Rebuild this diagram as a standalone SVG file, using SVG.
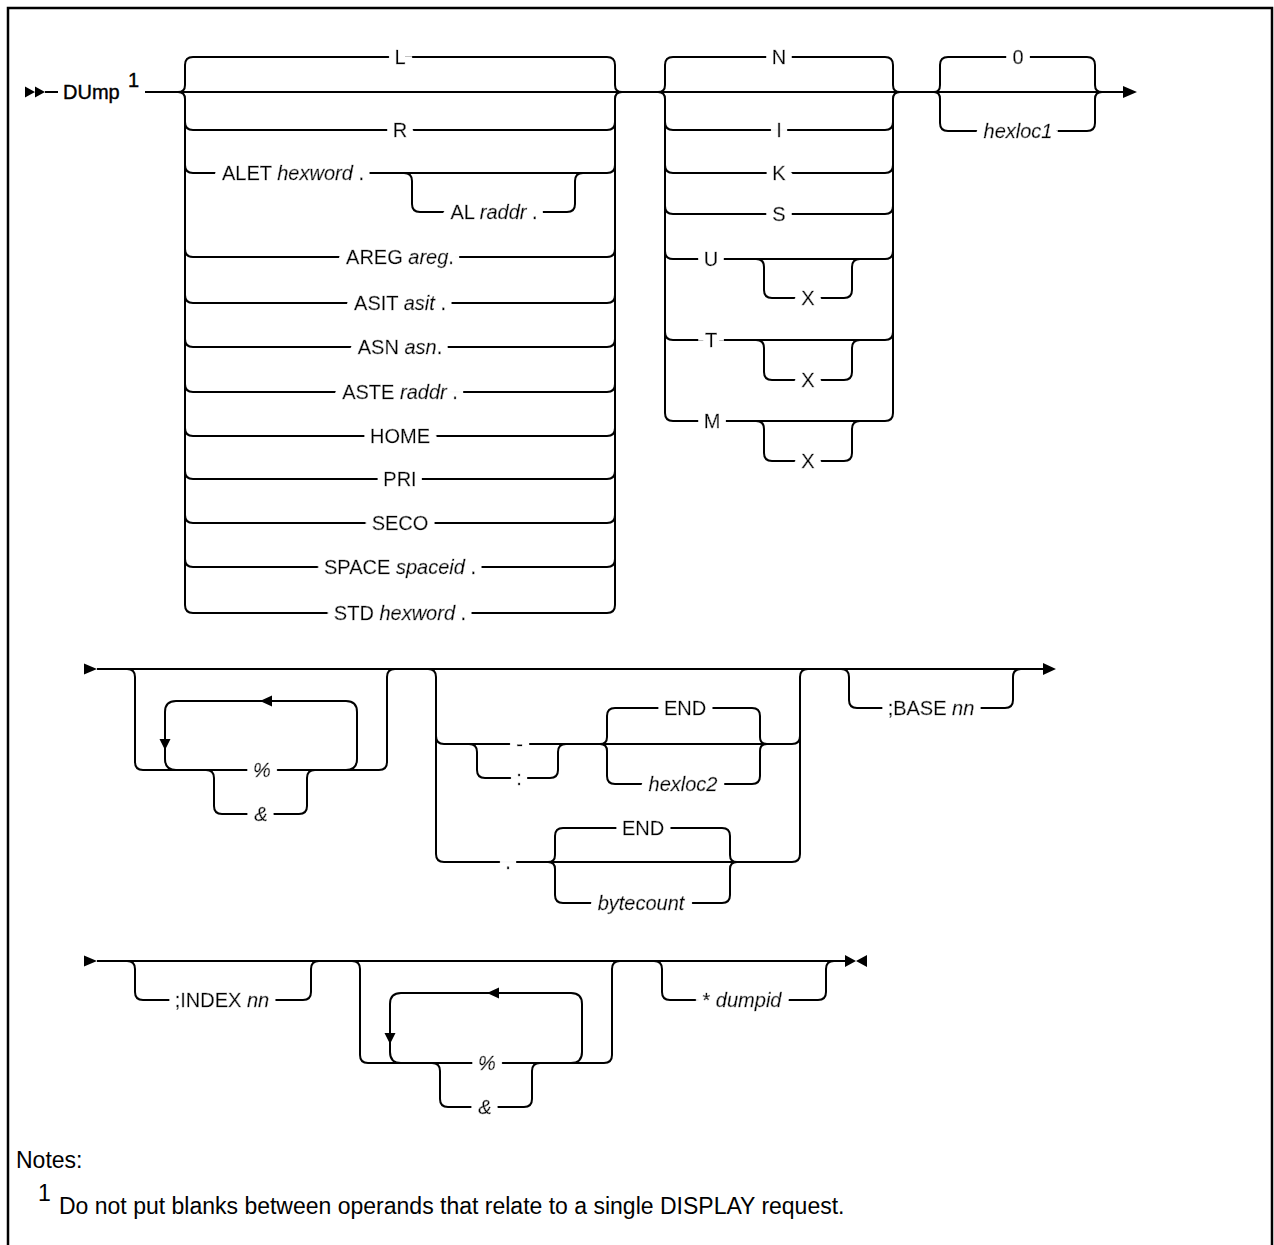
<svg xmlns="http://www.w3.org/2000/svg" width="1274" height="1245" viewBox="0 0 1274 1245">
<defs>
<filter id="halo" filterUnits="userSpaceOnUse" x="0" y="0" width="1274" height="1245">
<feMorphology in="SourceAlpha" operator="dilate" radius="7 6" result="d"/>
<feFlood flood-color="#fff" result="f"/>
<feComposite in="f" in2="d" operator="in" result="w"/>
<feMerge><feMergeNode in="w"/><feMergeNode in="SourceGraphic"/></feMerge>
</filter>
</defs>
<style>
.ln{fill:none;stroke:#000;stroke-width:2}
.fr{fill:none;stroke:#000;stroke-width:2.5}
.ah{fill:#000;stroke:none}
.t{font-family:"Liberation Sans",Arial,sans-serif;font-size:20px;fill:#000;stroke:#000;stroke-width:0.4px;text-anchor:middle;filter:url(#halo)}
.p{font-family:"Liberation Sans",Arial,sans-serif;font-size:20px;fill:#000;stroke:#000;stroke-width:0.4px}
.s{text-anchor:start}
.i{font-style:italic}
.n{font-family:"Liberation Sans",Arial,sans-serif;font-size:23px;fill:#000}
</style>
<rect width="1274" height="1245" fill="#fff"/>
<path class="fr" d="M8,1245 V8 H1272 V1245"/>
<g id="connectors">
<path class="ln" d="M45,92 H58 M145,92 H178 M178,92 H1123"/>
<path class="ln" d="M178,92 Q185,92 185,85 V65 Q185,57 193,57 H607 Q615,57 615,65 V85 Q615,92 622,92"/>
<path class="ln" d="M178,92 Q185,92 185,99 V605 Q185,613 193,613 H607 Q615,613 615,605 V99 Q615,92 622,92"/>
<path class="ln" d="M185,122 Q185,130 193,130 H607 Q615,130 615,122 M185,165 Q185,173 193,173 H607 Q615,173 615,165 M185,249 Q185,257 193,257 H607 Q615,257 615,249 M185,295 Q185,303 193,303 H607 Q615,303 615,295 M185,339 Q185,347 193,347 H607 Q615,347 615,339 M185,384 Q185,392 193,392 H607 Q615,392 615,384 M185,428 Q185,436 193,436 H607 Q615,436 615,428 M185,471 Q185,479 193,479 H607 Q615,479 615,471 M185,515 Q185,523 193,523 H607 Q615,523 615,515 M185,559 Q185,567 193,567 H607 Q615,567 615,559"/>
<path class="ln" d="M404,173 Q412,173 412,181 V204 Q412,212 420,212 H567 Q575,212 575,204 V181 Q575,173 583,173"/>
<path class="ln" d="M658,92 Q665,92 665,85 V65 Q665,57 673,57 H885 Q893,57 893,65 V85 Q893,92 900,92"/>
<path class="ln" d="M658,92 Q665,92 665,99 V413 Q665,421 673,421 H885 Q893,421 893,413 V99 Q893,92 900,92"/>
<path class="ln" d="M665,122 Q665,130 673,130 H885 Q893,130 893,122 M665,165 Q665,173 673,173 H885 Q893,173 893,165 M665,206 Q665,214 673,214 H885 Q893,214 893,206 M665,251 Q665,259 673,259 H885 Q893,259 893,251 M665,332 Q665,340 673,340 H885 Q893,340 893,332"/>
<path class="ln" d="M756,259 Q764,259 764,267 V290 Q764,298 772,298 H844 Q852,298 852,290 V267 Q852,259 860,259 M756,340 Q764,340 764,348 V372 Q764,380 772,380 H844 Q852,380 852,372 V348 Q852,340 860,340 M756,421 Q764,421 764,429 V453 Q764,461 772,461 H844 Q852,461 852,453 V429 Q852,421 860,421"/>
<path class="ln" d="M934,92 Q940,92 940,85 V65 Q940,57 948,57 H1087 Q1095,57 1095,65 V85 Q1095,92 1102,92"/>
<path class="ln" d="M934,92 Q940,92 940,99 V123 Q940,131 948,131 H1087 Q1095,131 1095,123 V99 Q1095,92 1102,92"/>
<path class="ah" d="M25,86.5 L35,92 L25,97.5 Z M35,86.5 L45,92 L35,97.5 Z M1123,86 L1137,92 L1123,98 Z"/>
<path class="ln" d="M97,669 H1043"/>
<path class="ah" d="M84,663.5 L97,669 L84,674.5 Z M1043,663 L1056,669 L1043,675 Z"/>
<path class="ln" d="M127,669 Q135,669 135,677 V762 Q135,770 143,770 H379 Q387,770 387,762 V677 Q387,669 395,669"/>
<path class="ln" d="M176,770 Q165,770 165,759 V712 Q165,701 176,701 H346 Q357,701 357,712 V759 Q357,770 346,770"/>
<path class="ah" d="M159.5,739 L165,750 L170.5,739 Z M272,695.5 L260,701 L272,706.5 Z"/>
<path class="ln" d="M206,770 Q214,770 214,778 V806 Q214,814 222,814 H299 Q307,814 307,806 V778 Q307,770 315,770"/>
<path class="ln" d="M428,669 Q436,669 436,677 V854 Q436,862 444,862 H792 Q800,862 800,854 V677 Q800,669 808,669"/>
<path class="ln" d="M436,736 Q436,744 444,744 H792 Q800,744 800,736"/>
<path class="ln" d="M469,744 Q477,744 477,752 V770 Q477,778 485,778 H550 Q558,778 558,770 V752 Q558,744 566,744"/>
<path class="ln" d="M600,744 Q607,744 607,737 V716 Q607,708 615,708 H752 Q760,708 760,716 V737 Q760,744 767,744 M600,744 Q607,744 607,751 V776 Q607,784 615,784 H752 Q760,784 760,776 V751 Q760,744 767,744"/>
<path class="ln" d="M548,862 Q555,862 555,855 V836 Q555,828 563,828 H722 Q730,828 730,836 V855 Q730,862 737,862 M548,862 Q555,862 555,869 V895 Q555,903 563,903 H722 Q730,903 730,895 V869 Q730,862 737,862"/>
<path class="ln" d="M841,669 Q849,669 849,677 V700 Q849,708 857,708 H1005 Q1013,708 1013,700 V677 Q1013,669 1021,669"/>
<path class="ln" d="M97,961 H845"/>
<path class="ah" d="M84,955.5 L97,961 L84,966.5 Z M845,955 L856,961 L845,967 Z M867,955 L856,961 L867,967 Z"/>
<path class="ln" d="M127,961 Q135,961 135,969 V992 Q135,1000 143,1000 H303 Q311,1000 311,992 V969 Q311,961 319,961"/>
<path class="ln" d="M352,961 Q360,961 360,969 V1055 Q360,1063 368,1063 H604 Q612,1063 612,1055 V969 Q612,961 620,961"/>
<path class="ln" d="M401,1063 Q390,1063 390,1052 V1004 Q390,993 401,993 H571 Q582,993 582,1004 V1052 Q582,1063 571,1063"/>
<path class="ah" d="M384.5,1033 L390,1044 L395.5,1033 Z M499,987.5 L487,993 L499,998.5 Z"/>
<path class="ln" d="M432,1063 Q440,1063 440,1071 V1099 Q440,1107 448,1107 H524 Q532,1107 532,1099 V1071 Q532,1063 540,1063"/>
<path class="ln" d="M654,961 Q662,961 662,969 V992 Q662,1000 670,1000 H818 Q826,1000 826,992 V969 Q826,961 834,961"/>
</g>
<g id="start"><text class="p" x="63" y="99">DUmp</text><text class="p" x="128" y="87">1</text></g>
<g id="loc-type">
<text class="t" x="400" y="64">L</text>
<text class="t" x="400" y="137">R</text>
<text class="t s" x="222" y="180">ALET <tspan class="i">hexword</tspan> .</text>
<text class="t" x="494" y="219">AL <tspan class="i">raddr</tspan> .</text>
<text class="t" x="400" y="264">AREG <tspan class="i">areg</tspan>.</text>
<text class="t" x="400" y="310">ASIT <tspan class="i">asit</tspan> .</text>
<text class="t" x="400" y="354">ASN <tspan class="i">asn</tspan>.</text>
<text class="t" x="400" y="399">ASTE <tspan class="i">raddr</tspan> .</text>
<text class="t" x="400" y="443">HOME</text>
<text class="t" x="400" y="486">PRI</text>
<text class="t" x="400" y="530">SECO</text>
<text class="t" x="400" y="574">SPACE <tspan class="i">spaceid</tspan> .</text>
<text class="t" x="400" y="620">STD <tspan class="i">hexword</tspan> .</text>
</g>
<g id="addr-type">
<text class="t" x="779" y="64">N</text>
<text class="t" x="779" y="137">I</text>
<text class="t" x="779" y="180">K</text>
<text class="t" x="779" y="221">S</text>
<text class="t" x="711" y="266">U</text>
<text class="t" x="808" y="305">X</text>
<text class="t" x="711" y="347">T</text>
<text class="t" x="808" y="387">X</text>
<text class="t" x="712" y="428">M</text>
<text class="t" x="808" y="468">X</text>
</g>
<g id="hexloc1"><text class="t" x="1018" y="64">0</text><text class="t i" x="1018" y="138">hexloc1</text></g>
<g id="sep1"><text class="t i" x="262" y="777">%</text><text class="t i" x="261" y="821">&amp;</text></g>
<g id="range">
<text class="t" x="519.5" y="751">-</text>
<text class="t" x="519" y="785">:</text>
<text class="t" x="685" y="715">END</text>
<text class="t i" x="683" y="791">hexloc2</text>
<text class="t" x="508" y="869">.</text>
<text class="t" x="643" y="835">END</text>
<text class="t i" x="641" y="910">bytecount</text>
</g>
<g id="base"><text class="t" x="931" y="715">;BASE <tspan class="i">nn</tspan></text></g>
<g id="index"><text class="t" x="222" y="1007">;INDEX <tspan class="i">nn</tspan></text></g>
<g id="sep2"><text class="t i" x="487" y="1070">%</text><text class="t i" x="485" y="1114">&amp;</text></g>
<g id="dumpid"><text class="t" x="742" y="1007">* <tspan class="i">dumpid</tspan></text></g>
<g id="notes">
<text class="n" x="16" y="1168">Notes:</text>
<text class="n" x="38" y="1201" font-size="15">1</text>
<text class="n" x="59" y="1214">Do not put blanks between operands that relate to a single DISPLAY request.</text>
</g>
</svg>
